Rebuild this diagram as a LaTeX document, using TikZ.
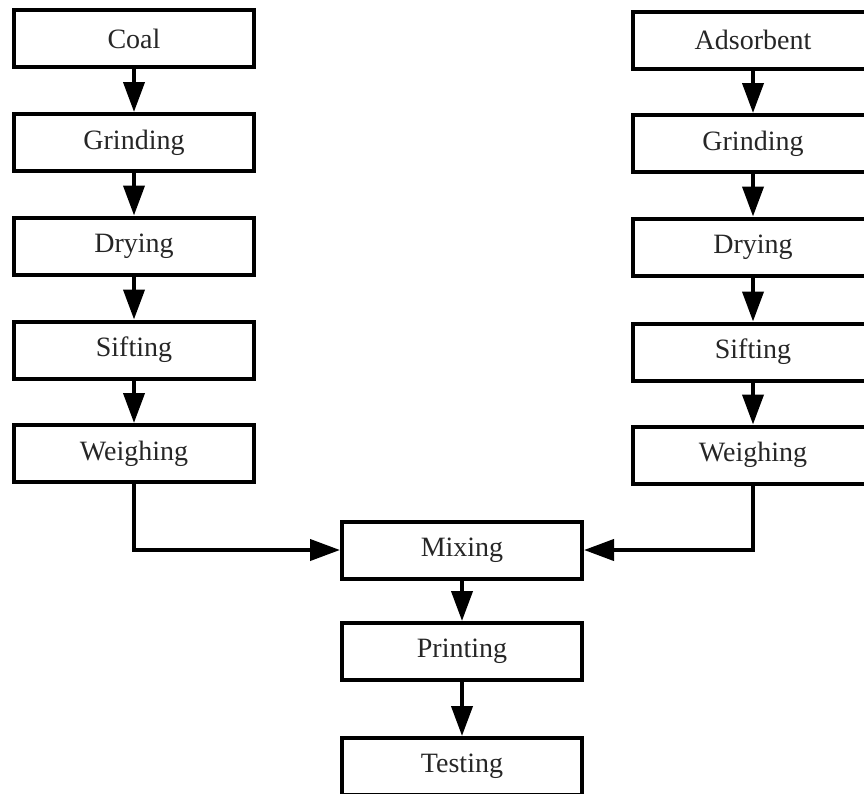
\documentclass[tikz,border=0pt]{standalone}
\usepackage{fontspec}
\setmainfont{Liberation Serif}
\usetikzlibrary{arrows.meta}
\begin{document}
\begin{tikzpicture}[x=1pt,y=-1pt,
  stage/.style={draw=black, line width=4pt, minimum width=240pt, minimum height=57pt,
    inner sep=0pt, font=\fontsize{28}{34}\selectfont, text=black!85},
  arr/.style={line width=4pt, -{Triangle[length=30pt,width=21pt]}}]
\useasboundingbox (0,0) rectangle (864,793);
\clip (0,0) rectangle (864,793);
% left column
\node[stage] (coal) at (134,38.5) {Coal};
\node[stage] (lgrind) at (134,142.5) {Grinding};
\node[stage] (ldry) at (134,246) {Drying};
\node[stage] (lsift) at (134,350) {Sifting};
\node[stage] (lweigh) at (134,453.5) {Weighing};
% right column
\node[stage] (ads) at (753,40) {Adsorbent};
\node[stage] (rgrind) at (753,143.5) {Grinding};
\node[stage] (rdry) at (753,247) {Drying};
\node[stage] (rsift) at (753,352) {Sifting};
\node[stage] (rweigh) at (753,455) {Weighing};
% center column
\node[stage] (mix) at (462,550) {Mixing};
\node[stage] (print) at (462,651.5) {Printing};
\node[stage] (test) at (462,766.5) {Testing};
% connectors
\draw[arr] (coal) -- (lgrind);
\draw[arr] (lgrind) -- (ldry);
\draw[arr] (ldry) -- (lsift);
\draw[arr] (lsift) -- (lweigh);
\draw[arr] (ads) -- (rgrind);
\draw[arr] (rgrind) -- (rdry);
\draw[arr] (rdry) -- (rsift);
\draw[arr] (rsift) -- (rweigh);
\draw[arr] (lweigh.south) |- (mix.west);
\draw[arr] (rweigh.south) |- (mix.east);
\draw[arr] (mix) -- (print);
\draw[arr] (print) -- (test);
\end{tikzpicture}
\end{document}
